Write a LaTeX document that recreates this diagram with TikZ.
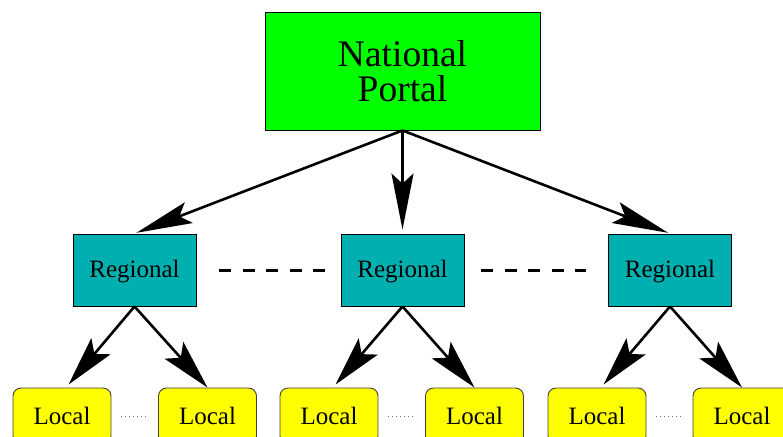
\documentclass[tikz,border=0pt]{standalone}
\usepackage{fontspec}
\setmainfont{Liberation Serif}
\usetikzlibrary{arrows.meta}
\definecolor{natgreen}{RGB}{0,255,0}
\definecolor{regteal}{RGB}{0,176,176}
\definecolor{locyellow}{RGB}{255,255,0}
\begin{document}
\begin{tikzpicture}[x=1pt,y=-1pt,
  natbox/.style={draw=black,line width=0.9pt,fill=natgreen,minimum width=275pt,minimum height=118pt,
    align=center,font=\fontsize{37.5}{35}\selectfont,inner sep=0pt},
  regbox/.style={draw=black,line width=0.9pt,fill=regteal,minimum width=123pt,minimum height=72pt,
    font=\fontsize{25}{28}\selectfont,inner sep=0pt,text height=19pt,text depth=5pt},
  locbox/.style={draw=black!75,line width=0.9pt,fill=locyellow,rounded corners=8pt,minimum width=98pt,minimum height=56pt,
    font=\fontsize{25}{28}\selectfont,inner sep=0pt},
  bigarrow/.style={line width=2.6pt,-{Stealth[length=56pt,width=22pt,inset=10pt]}},
  smallarrow/.style={line width=2.6pt,-{Stealth[length=50pt,width=25pt,inset=10pt]}},
  peerlink/.style={line width=3pt,dash pattern=on 12pt off 11.5pt},
  locallink/.style={line width=0.9pt,draw=black!55,dash pattern=on 1pt off 3pt}]
\useasboundingbox (0,0) rectangle (783,436);
\clip (0,0) rectangle (783,436);

% national portal
\node[natbox] (nat) at (402.5,71) {National\\Portal};

% regional portals
\node[regbox] (reg1) at (134.5,270) {Regional};
\node[regbox] (reg2) at (402.5,270) {Regional};
\node[regbox] (reg3) at (670,270) {Regional};

% local portals
\node[locbox] (loc1) at (62,416) {Local};
\node[locbox] (loc2) at (207.5,416) {Local};
\node[locbox] (loc3) at (329,416) {Local};
\node[locbox] (loc4) at (474.5,416) {Local};
\node[locbox] (loc5) at (597,416) {Local};
\node[locbox] (loc6) at (742,416) {Local};

% national to regional
\draw[bigarrow,shorten >=2pt] (nat.south) -- (reg1.north);
\draw[bigarrow,shorten >=4pt] (nat.south) -- (reg2.north);
\draw[bigarrow,shorten >=2pt] (nat.south) -- (reg3.north);

% regional to local
\draw[smallarrow,shorten >=4pt] (reg1.south) -- ([xshift=4pt]loc1.north);
\draw[smallarrow,shorten >=0pt] (reg1.south) -- (loc2.north);
\draw[smallarrow,shorten >=4pt] (reg2.south) -- ([xshift=4pt]loc3.north);
\draw[smallarrow,shorten >=0pt] (reg2.south) -- (loc4.north);
\draw[smallarrow,shorten >=4pt] (reg3.south) -- ([xshift=4pt]loc5.north);
\draw[smallarrow,shorten >=0pt] (reg3.south) -- (loc6.north);

% peer links between regional portals
\draw[peerlink,shorten <=23pt,shorten >=16pt] (reg1.east) -- (reg2.west);
\draw[peerlink,shorten <=17pt,shorten >=22pt] (reg2.east) -- (reg3.west);

% peer links between local portals
\draw[locallink,shorten <=10pt,shorten >=10pt] (loc1.east) -- (loc2.west);
\draw[locallink,shorten <=10pt,shorten >=10pt] (loc3.east) -- (loc4.west);
\draw[locallink,shorten <=10pt,shorten >=10pt] (loc5.east) -- (loc6.west);
\end{tikzpicture}
\end{document}
